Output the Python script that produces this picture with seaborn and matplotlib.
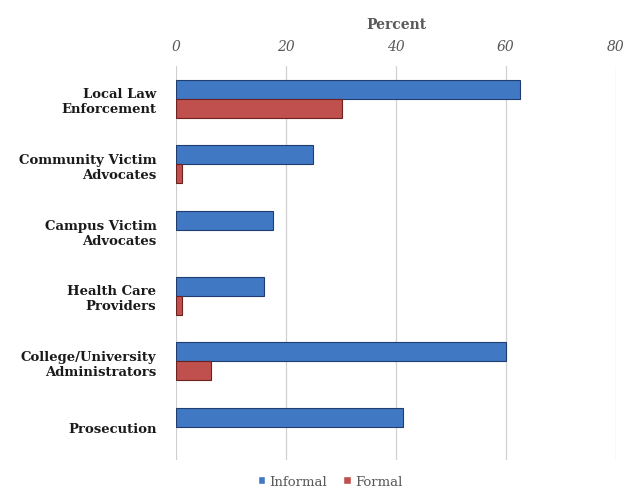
import matplotlib
matplotlib.use("Agg")
import matplotlib.pyplot as plt
import seaborn as sns
import pandas as pd

categories = ["Local Law\nEnforcement", "Community Victim\nAdvocates", "Campus Victim\nAdvocates",
              "Health Care\nProviders", "College/University\nAdministrators", "Prosecution"]
informal = [62.5, 25.0, 17.7, 16.0, 60.0, 41.2]
formal = [30.2, 1.1, 0.0, 1.1, 6.4, 0.0]
series = ["Informal", "Formal"]
xticks = [0, 20, 40, 60, 80]

df = pd.DataFrame({
    "cat": categories * 2,
    "val": informal + formal,
    "series": [series[0]] * len(categories) + [series[1]] * len(categories),
})

sns.set_theme(style="white")
plt.rcParams["font.family"] = ["DejaVu Serif"]

fig = plt.figure(figsize=(6.26, 4.89), dpi=100)
ax = fig.add_axes([0.281, 0.058, 0.703, 0.805])

palette = {"Informal": "#4178c4", "Formal": "#c0504d"}
sns.barplot(data=df, y="cat", x="val", hue="series", palette=palette, ax=ax,
            width=0.58, orient="h", legend=True, saturation=1)

edge = {"Informal": "#1f3d6e", "Formal": "#6e2220"}
for cont, s in zip(ax.containers, series):
    for b in cont:
        b.set_edgecolor(edge[s])
        b.set_linewidth(0.8 if b.get_width() > 0 else 0)

ax.set_xlim(0, 80)
ax.set_xticks(xticks)
ax.xaxis.tick_top()
ax.xaxis.set_label_position("top")
ax.set_xticklabels([str(t) for t in xticks], fontstyle="italic", color="#595959", fontsize=10)
ax.set_xlabel("Percent", fontsize=10, fontweight="bold", color="#595959", labelpad=8)
ax.set_ylabel("")
ax.tick_params(axis="x", length=0, pad=9)
ax.tick_params(axis="y", length=0, pad=14)
for lab in ax.get_yticklabels():
    lab.set_fontweight("bold")
    lab.set_fontsize(9.5)
    lab.set_color("#1a1a1a")
    lab.set_multialignment("right")

ax.grid(axis="x", color="#d0d0d0", linewidth=0.9)
ax.set_axisbelow(True)
for sp in ax.spines.values():
    sp.set_visible(False)

handles, labels = ax.get_legend_handles_labels()
ax.get_legend().remove()
leg = fig.legend(handles, labels, loc="center", bbox_to_anchor=(0.527, 0.014), ncol=2, frameon=False,
                 fontsize=9.5, handlelength=0.6, handleheight=0.6, handletextpad=0.3,
                 columnspacing=1.2)
for t in leg.get_texts():
    t.set_color("#595959")

fig.savefig("out.png", dpi=100)
